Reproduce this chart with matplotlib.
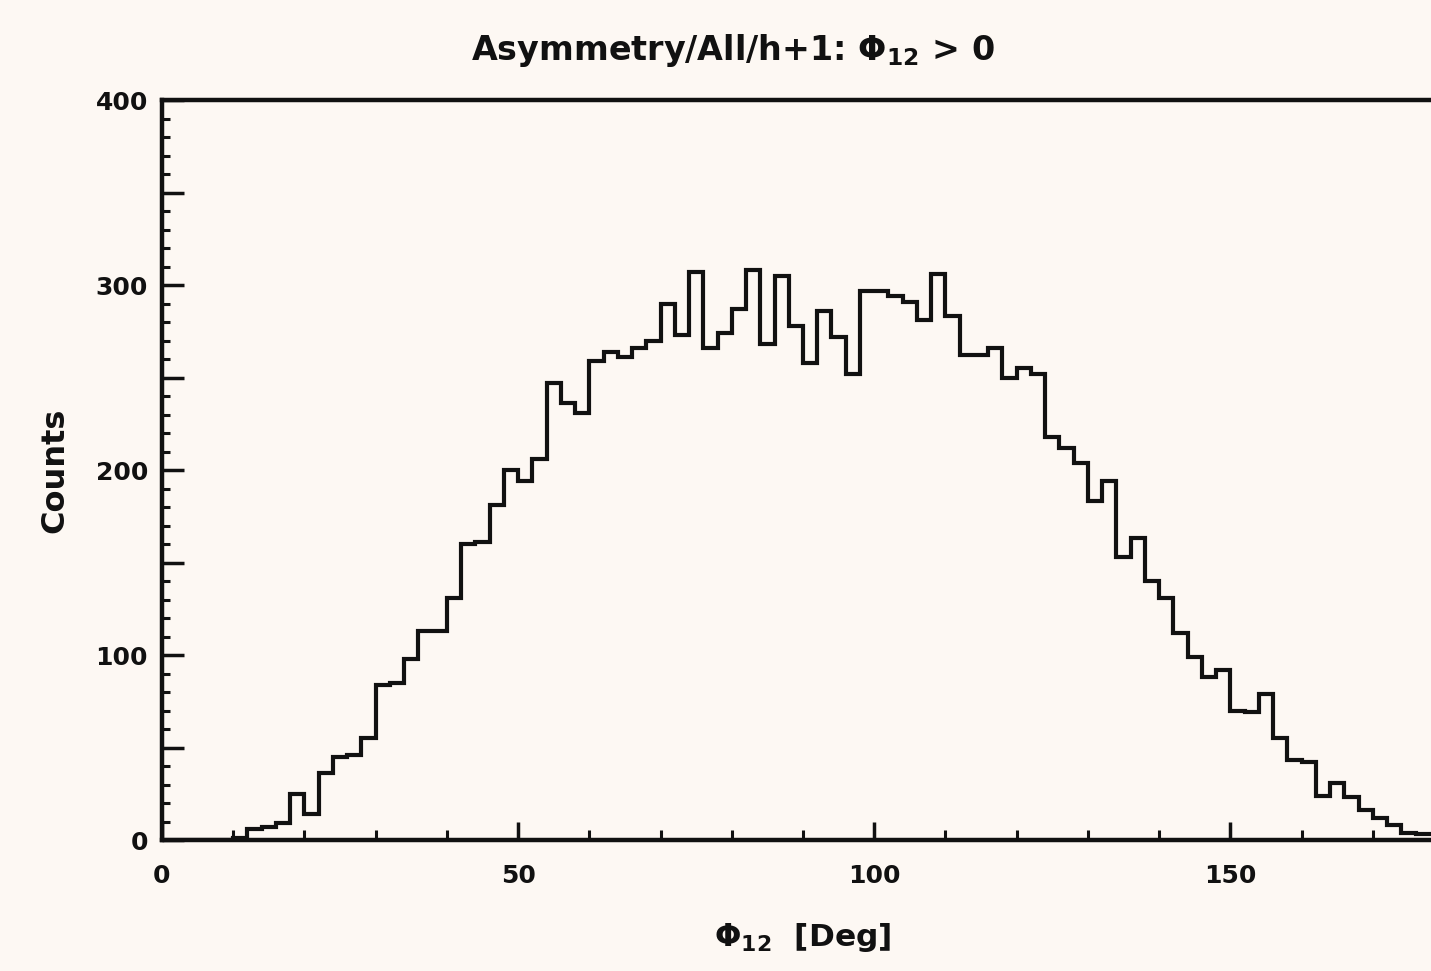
import matplotlib
matplotlib.use('Agg')
import matplotlib.pyplot as plt
from matplotlib.ticker import MultipleLocator, FuncFormatter
import numpy as np

# histogram of Phi_12, 2 degree bins from 0 to 180
bin_lo, bin_hi, nbins = 0, 180, 90
counts = [0, 0, 0, 0, 0, 1, 6, 7, 9, 25,
          14, 36, 45, 46, 55, 84, 85, 98, 113, 113,
          131, 160, 161, 181, 200, 194, 206, 247, 236, 231,
          259, 264, 261, 266, 270, 290, 273, 307, 266, 274,
          287, 308, 268, 305, 278, 258, 286, 272, 252, 297,
          297, 294, 291, 281, 306, 283, 262, 262, 266, 250,
          255, 252, 218, 212, 204, 183, 194, 153, 163, 140,
          131, 112, 99, 88, 92, 70, 69, 79, 55, 43,
          42, 24, 31, 23, 16, 12, 8, 4, 3, 3]
edges = np.linspace(bin_lo, bin_hi, nbins + 1)

title = r'Asymmetry/All/h+1: $\mathbf{\Phi_{12}}$ > 0'
xlabel = r'$\mathbf{\Phi_{12}}$  [Deg]'
ylabel = 'Counts'

plt.rcParams['font.family'] = 'DejaVu Sans'
plt.rcParams['font.weight'] = 'bold'
plt.rcParams['mathtext.fontset'] = 'dejavusans'
plt.rcParams['mathtext.default'] = 'bf'

bg = '#fdf8f3'
ink = '#111111'

fig = plt.figure(figsize=(14.31, 9.71), dpi=100, facecolor=bg)
ax = fig.add_axes([0.1132, 0.1349, 0.8959, 0.7621], facecolor=bg)

ax.stairs(counts, edges, color=ink, linewidth=3.0)

ax.set_xlim(bin_lo, bin_hi)
ax.set_ylim(0, 400)

for s in ax.spines.values():
    s.set_linewidth(3.2)
    s.set_color(ink)

ax.xaxis.set_major_locator(MultipleLocator(50))
ax.xaxis.set_minor_locator(MultipleLocator(10))
ax.yaxis.set_major_locator(MultipleLocator(50))
ax.yaxis.set_minor_locator(MultipleLocator(10))
ax.yaxis.set_major_formatter(FuncFormatter(lambda v, p: f'{v:.0f}' if v % 100 == 0 else ''))

ax.tick_params(axis='both', which='both', direction='in', color=ink,
               top=False, right=False, labelsize=18, labelcolor=ink)
ax.tick_params(axis='x', which='major', length=13, width=2.5, pad=17)
ax.tick_params(axis='x', which='minor', length=7, width=2.2)
ax.tick_params(axis='y', which='major', length=16, width=2.5, pad=10)
ax.tick_params(axis='y', which='minor', length=6, width=2.2)

ax.set_xlabel(xlabel, fontsize=22.5, fontweight='bold', color=ink, labelpad=24)
ax.set_ylabel(ylabel, fontsize=23, fontweight='bold', color=ink, labelpad=18)
fig.text(0.512, 0.948, title, fontsize=24, fontweight='bold', color=ink,
         ha='center', va='center')

fig.savefig('out.png', dpi=100, facecolor=bg)
